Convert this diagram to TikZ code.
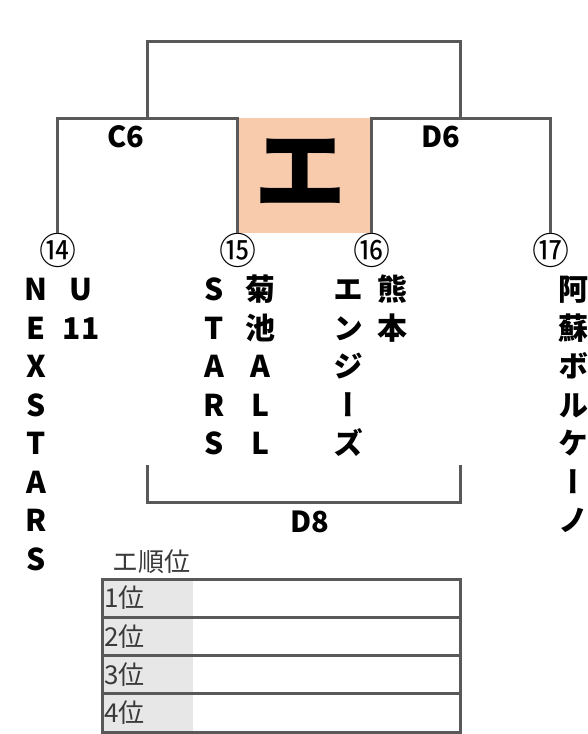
\documentclass[tikz,border=0pt]{standalone}
\usepackage{fontspec}
\newfontfamily\jpfont{Noto Sans CJK JP}
\newfontfamily\jpteam[RawFeature=+vert]{Noto Sans CJK JP}
\definecolor{LineGray}{HTML}{595959}
\definecolor{BlockFill}{HTML}{F8CBAD}
\definecolor{RankGray}{HTML}{E7E7E7}
\definecolor{TextGray}{HTML}{3A3A3A}
\usetikzlibrary{positioning}

\begin{document}
\begin{tikzpicture}[x=1pt,y=-1pt,
  line/.style={draw=LineGray, line width=3pt},
  team/.style={font=\jpteam\bfseries\fontsize{30}{30}\selectfont, anchor=base, inner sep=0pt},
  seed/.style={font=\jpfont\fontsize{37}{37}\selectfont, inner sep=0pt},
  roundlabel/.style={font=\jpfont\bfseries\fontsize{29}{29}\selectfont, inner sep=0pt},
  rank/.style={font=\jpfont\fontsize{26}{26}\selectfont, text=TextGray, anchor=west, inner sep=0pt}]
\useasboundingbox (0,0) rectangle (588,734);

%block
\fill[BlockFill] (237,118) rectangle (371,233);
\node[font=\jpfont\bfseries\fontsize{92}{92}\selectfont, inner sep=0pt] (block) at (300,172) {エ};

%seeds
\node[seed] (s14) at (58,250) {⑭};
\node[seed] (s15) at (238,250) {⑮};
\node[seed] (s16) at (372,250) {⑯};
\node[seed] (s17) at (551,250) {⑰};

%brackets
\coordinate (c6) at (147,118);
\coordinate (d6) at (460,118);
\coordinate (final) at (304,41);
\draw[line] (s14.north -| 57,0) |- (c6) -| (s15.north -| 237,0);
\draw[line] (s16.north -| 371,0) |- (d6) -| (s17.north -| 550,0);
\draw[line] (c6) |- (final) -| (d6);
\node[roundlabel] (c6label) at (126,137) {C6};
\node[roundlabel] (d6label) at (441,137) {D6};

%teams
\foreach \ch [count=\i from 0] in {N,E,X,S,T,A,R,S}
  \node[team] (nexstars\i) at (36,300.5+38.5*\i) {\ch};
\foreach \ch [count=\i from 0] in {U,11}
  \node[team] (u11\i) at (81,300.5+38.5*\i) {\ch};
\foreach \ch [count=\i from 0] in {S,T,A,R,S}
  \node[team] (stars\i) at (214,300.5+38.5*\i) {\ch};
\foreach \ch [count=\i from 0] in {菊,池,A,L,L}
  \node[team] (kikuchi\i) at (260,300.5+38.5*\i) {\ch};
\foreach \ch [count=\i from 0] in {エ,ン,ジ,ー,ズ}
  \node[team] (angels\i) at (348,300.5+38.5*\i) {\ch};
\foreach \ch [count=\i from 0] in {熊,本}
  \node[team] (kumamoto\i) at (392,300.5+38.5*\i) {\ch};
\foreach \ch [count=\i from 0] in {阿,蘇,ボ,ル,ケ,ー,ノ}
  \node[team] (aso\i) at (573,300.5+38.5*\i) {\ch};

%d8
\coordinate (d8l) at (147,465);
\coordinate (d8r) at (460,465);
\draw[line] (d8l) -- ++(0,37) -| (d8r);
\node[roundlabel] (d8label) at (310,522) {D8};

%ranking
\node[font=\jpfont\fontsize{26}{26}\selectfont, text=TextGray, inner sep=0pt] (ranktitle) at (151,562) {エ順位};
\foreach \r in {1,...,4} {
  \pgfmathsetmacro\ry{579+38.3*(\r-1)}
  \fill[RankGray] (102,\ry) rectangle (193,\ry+38.3);
  \draw[line] (102,\ry) rectangle (460,\ry+38.3);
  \node[rank] (rank\r) at (104,\ry+19) {\r{}位};
}
\end{tikzpicture}
\end{document}
